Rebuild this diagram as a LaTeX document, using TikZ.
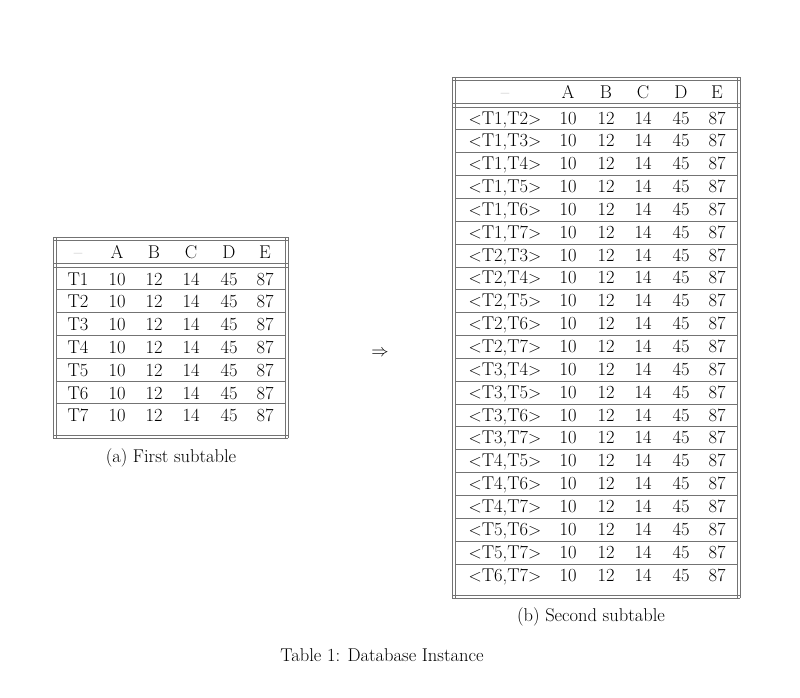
\documentclass[tikz,border=0pt]{standalone}
\begin{document}
\begin{tikzpicture}[x=1pt,y=-1pt,font=\fontsize{18.5}{22}\selectfont,
  rl/.style={draw=black!55,line width=0.9pt},
  cell/.style={inner sep=0pt,anchor=base}]
\useasboundingbox (0,0) rectangle (800,697);
% ---- left table
\foreach \x in {53,56,285,288} \draw[rl] (\x,237) -- (\x,438);
\foreach \y in {237,240,263,267,435,438} \draw[rl] (53,\y) -- (288,\y);
\foreach \k in {1,...,6} \draw[rl] (56,{267+22.8*\k}) -- (285,{267+22.8*\k});
\foreach \t [count=\c] in {{\textcolor{black!45}{--}},A,B,C,D,E} {
  \pgfmathsetmacro{\xx}{{78,117,154,191,229,265}[\c-1]}
  \node[cell] (lh\c) at (\xx,258) {\t};}
\foreach \r in {1,...,7} {
  \pgfmathsetmacro{\yy}{285+22.8*(\r-1)}
  \node[cell] (ln\r) at (78,\yy) {T\r};
  \foreach \v [count=\c] in {10,12,14,45,87} {
    \pgfmathsetmacro{\xx}{{117,154,191,229,265}[\c-1]}
    \node[cell] (lc\r-\c) at (\xx,\yy) {\v};}}
\node (capa) at (171,458) {(a) First subtable};
% ---- arrow
\node (arr) at (380,353) {$\Rightarrow$};
% ---- right table
\foreach \x in {452,455,737,740} \draw[rl] (\x,77) -- (\x,598);
\foreach \y in {77,80,103,107,595,598} \draw[rl] (452,\y) -- (740,\y);
\foreach \k in {1,...,20} \draw[rl] (455,{107+22.85*\k}) -- (737,{107+22.85*\k});
\foreach \t [count=\c] in {{\textcolor{black!45}{--}},A,B,C,D,E} {
  \pgfmathsetmacro{\xx}{{505,568,606,643,681,717}[\c-1]}
  \node[cell] (rh\c) at (\xx,98) {\t};}
\foreach \p [count=\r] in {{T1,T2},{T1,T3},{T1,T4},{T1,T5},{T1,T6},{T1,T7},{T2,T3},{T2,T4},{T2,T5},{T2,T6},{T2,T7},{T3,T4},{T3,T5},{T3,T6},{T3,T7},{T4,T5},{T4,T6},{T4,T7},{T5,T6},{T5,T7},{T6,T7}} {
  \pgfmathsetmacro{\yy}{124+22.85*(\r-1)}
  \node[cell] (rn\r) at (505,\yy) {$<$\p$>$};
  \foreach \v [count=\c] in {10,12,14,45,87} {
    \pgfmathsetmacro{\xx}{{568,606,643,681,717}[\c-1]}
    \node[cell] (rc\r-\c) at (\xx,\yy) {\v};}}
\node (capb) at (591,617) {(b) Second subtable};
\node (cap) at (382,655) {Table 1: Database Instance};
\end{tikzpicture}
\end{document}
